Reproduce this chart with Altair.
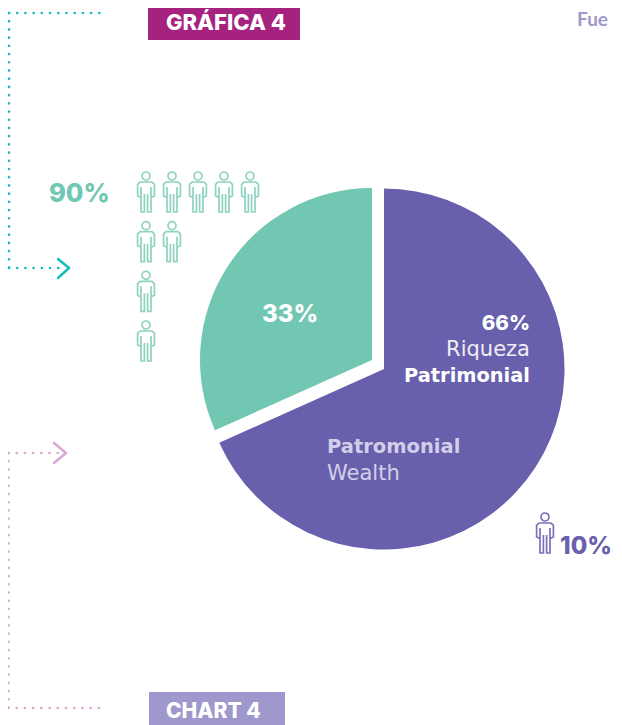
import altair as alt
import pandas as pd

# --- chart values -----------------------------------------------------------
SLICE_NAMES = ["Riqueza Patrimonial", "Other"]
SLICE_DRAWN = [68.3, 31.7]          # share of the circle as drawn
SLICE_COLORS = ["#6860AC", "#71C7B2"]
GREEN_ICONS_PER_ROW = [5, 2, 1, 1]  # 90% group
PURPLE_ICONS = 1                    # 10% group

PURPLE, GREEN = SLICE_COLORS[0], SLICE_COLORS[1]
MAGENTA, LAVENDER = "#A5237F", "#9E98CC"
CYAN, PINK = "#14BDC2", "#DDA6D3"
PALE = "#D3CFE8"
SOFT = "#EFEEF7"

FONT = "Inter"
WIDE = "DejaVu Sans"
PERSON = ("M0.2 -0.8 A0.2 0.2 0 1 1 -0.2 -0.8 A0.2 0.2 0 1 1 0.2 -0.8 Z "
          "M-0.25 0.28 L-0.42 0.2 L-0.42 -0.38 L-0.3 -0.5 L0.3 -0.5 L0.42 -0.38 L0.42 0.2 L0.25 0.28 "
          "M-0.25 -0.25 L-0.25 1 L-0.08 1 L-0.08 0.1 M0.08 0.1 L0.08 1 L0.25 1 L0.25 -0.25")

M = 8
W, H = 622 - 2 * M, 725 - M


def px(x):
    return x - M


def py(y):
    return y - M


def seg(x1, y1, x2, y2, color, width=1, dash=None, cap="round"):
    kw = {"color": color, "strokeWidth": width, "strokeCap": cap}
    if dash:
        kw["strokeDash"] = dash
    return alt.Chart(pd.DataFrame({"a": [0]})).mark_rule(**kw).encode(
        x=alt.value(px(x1)), x2=alt.value(px(x2)), y=alt.value(py(y1)), y2=alt.value(py(y2)))


def box(x1, y1, x2, y2, color):
    return alt.Chart(pd.DataFrame({"a": [0]})).mark_rect(color=color).encode(
        x=alt.value(max(px(x1), 0)), x2=alt.value(px(x2)),
        y=alt.value(max(py(y1), 0)), y2=alt.value(py(y2)))


def label(text, x, y, size, color, weight=700, align="left", font=FONT):
    return alt.Chart(pd.DataFrame({"a": [0]})).mark_text(
        text=text, fontSize=size, color=color, fontWeight=weight, align=align,
        baseline="alphabetic", font=font).encode(x=alt.value(px(x)), y=alt.value(py(y)))


pie = pd.DataFrame({"name": SLICE_NAMES, "share": SLICE_DRAWN, "color": SLICE_COLORS})


def wedge(name, cx, cy, radius):
    return (alt.Chart(pie)
            .transform_stack(stack="share", groupby=[], as_=["t0", "t1"],
                             sort=[alt.SortField("share", order="descending")])
            .transform_filter(alt.datum.name == name)
            .mark_arc(outerRadius=radius, innerRadius=0)
            .encode(theta=alt.Theta("t0:Q", scale=alt.Scale(domain=[0, 100])),
                    theta2="t1:Q",
                    color=alt.Color("color:N", scale=None),
                    x=alt.value(px(cx)), y=alt.value(py(cy))))


ICON_SIZE = 40 ** 2
rows = [{"col": c, "row": r} for r, n in enumerate(GREEN_ICONS_PER_ROW) for c in range(n)]
people = (alt.Chart(pd.DataFrame(rows))
          .mark_point(shape=PERSON, filled=False, color="#8ED2C1", strokeWidth=1.7, size=ICON_SIZE, opacity=1)
          .encode(x=alt.X("col:Q", axis=None,
                          scale=alt.Scale(domain=[0, 4], range=[px(146), px(250)])),
                  y=alt.Y("row:Q", axis=None,
                          scale=alt.Scale(domain=[0, 3], range=[py(192), py(341)]))))
person_10 = (alt.Chart(pd.DataFrame({"n": list(range(PURPLE_ICONS))}))
             .mark_point(shape=PERSON, filled=False, color="#7A71B8", strokeWidth=1.7, size=ICON_SIZE, opacity=1)
             .encode(x=alt.value(px(545)), y=alt.value(py(533))))

DOT = [0.01, 8.2]
layers = [
    # leader lines
    seg(9, 13, 103, 13, CYAN, 2.7, DOT), seg(9, 13, 9, 268, CYAN, 2.7, DOT), seg(9, 268, 62, 268, CYAN, 2.7, DOT),
    seg(58, 259, 69, 268, CYAN, 2.4), seg(69, 268, 58, 278, CYAN, 2.4),
    seg(8.5, 453, 60, 453, PINK, 2.7, DOT), seg(8.5, 453, 8.5, 708, PINK, 2.7, DOT), seg(8.5, 708, 102, 708, PINK, 2.7, DOT),
    seg(54, 443, 66, 453, PINK, 2.4), seg(66, 453, 54, 463, PINK, 2.4),
    # title boxes
    box(148, 4, 300, 40, MAGENTA), box(149, 692, 285, 725, LAVENDER),
    label("GRÁFICA 4", 166, 30, 22, "white", 800),
    label("CHART 4", 166, 718, 21, "white", 800),
    label("Fue", 608, 26, 19, LAVENDER, 700, "right", "Lato"),
    # pie
    wedge(SLICE_NAMES[0], 384, 369, 180.5),
    wedge(SLICE_NAMES[1], 372, 360, 172),
    label("33%", 290, 322, 24, "white", 800, "center"),
    label("66%", 530, 330, 20.5, "white", 800, "right"),
    label("Riqueza", 530, 356, 21, SOFT, 400, "right", WIDE),
    label("Patrimonial", 530, 382, 19.4, "white", 700, "right", WIDE),
    label("Patromonial", 327, 453, 19.5, PALE, 700, font=WIDE),
    label("Wealth", 327, 480, 21, PALE, 400, font=WIDE),
    # people
    label("90%", 49, 202, 25.5, GREEN, 800),
    people,
    person_10,
    label("10%", 612, 554, 24, PURPLE, 800, "right"),
]

chart = (alt.layer(*layers)
         .resolve_scale(x="independent", y="independent", theta="independent", color="independent")
         .properties(width=W, height=H, padding=0,
                     autosize=alt.AutoSizeParams(type="none"),
                     background="white")
         .configure_view(stroke=None))

chart.save("out.html", embed_options={"renderer": "svg", "actions": False})
